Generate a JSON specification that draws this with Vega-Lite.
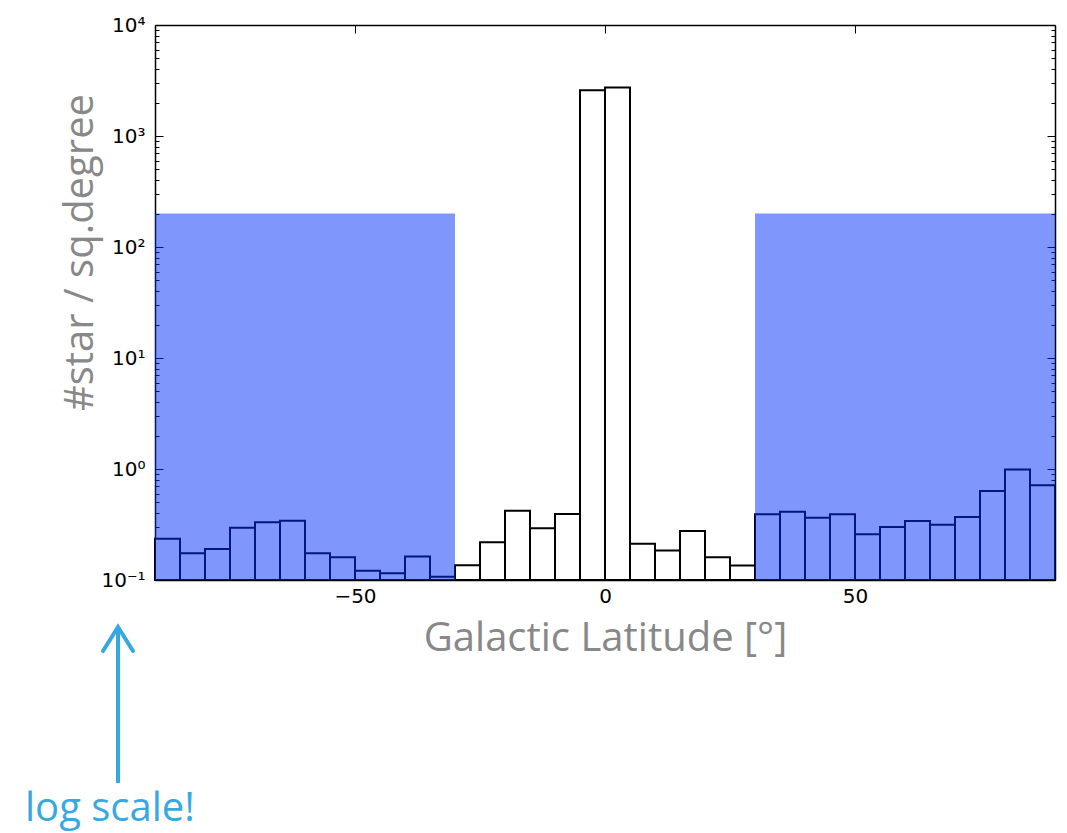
{
  "$schema": "https://vega.github.io/schema/vega-lite/v6.json",
  "width": 900,
  "height": 555,
  "autosize": "none",
  "padding": {"left": 155, "top": 25, "right": 12, "bottom": 253},
  "background": "white",
  "config": {
    "view": {"stroke": null},
    "axis": {
      "grid": false,
      "domainColor": "black",
      "domainWidth": 1.5,
      "tickColor": "black",
      "tickWidth": 1,
      "labelFont": "DejaVu Sans",
      "labelFontSize": 20,
      "labelColor": "black",
      "titleFont": "Open Sans",
      "titleFontSize": 40,
      "titleFontWeight": "normal",
      "titleColor": "#888888"
    }
  },
  "resolve": {"axis": {"x": "independent", "y": "independent"}},
  "layer": [
    {
      "data": {
        "values": [
          {"lat_lo": -90, "lat_hi": -85, "density": 0.235},
          {"lat_lo": -85, "lat_hi": -80, "density": 0.174},
          {"lat_lo": -80, "lat_hi": -75, "density": 0.19},
          {"lat_lo": -75, "lat_hi": -70, "density": 0.296},
          {"lat_lo": -70, "lat_hi": -65, "density": 0.331},
          {"lat_lo": -65, "lat_hi": -60, "density": 0.342},
          {"lat_lo": -60, "lat_hi": -55, "density": 0.174},
          {"lat_lo": -55, "lat_hi": -50, "density": 0.16},
          {"lat_lo": -50, "lat_hi": -45, "density": 0.121},
          {"lat_lo": -45, "lat_hi": -40, "density": 0.115},
          {"lat_lo": -40, "lat_hi": -35, "density": 0.163},
          {"lat_lo": -35, "lat_hi": -30, "density": 0.107},
          {"lat_lo": -30, "lat_hi": -25, "density": 0.136},
          {"lat_lo": -25, "lat_hi": -20, "density": 0.219},
          {"lat_lo": -20, "lat_hi": -15, "density": 0.42},
          {"lat_lo": -15, "lat_hi": -10, "density": 0.292},
          {"lat_lo": -10, "lat_hi": -5, "density": 0.394},
          {"lat_lo": -5, "lat_hi": 0, "density": 2580},
          {"lat_lo": 0, "lat_hi": 5, "density": 2740},
          {"lat_lo": 5, "lat_hi": 10, "density": 0.212},
          {"lat_lo": 10, "lat_hi": 15, "density": 0.184},
          {"lat_lo": 15, "lat_hi": 20, "density": 0.277},
          {"lat_lo": 20, "lat_hi": 25, "density": 0.16},
          {"lat_lo": 25, "lat_hi": 30, "density": 0.135},
          {"lat_lo": 30, "lat_hi": 35, "density": 0.391},
          {"lat_lo": 35, "lat_hi": 40, "density": 0.412},
          {"lat_lo": 40, "lat_hi": 45, "density": 0.364},
          {"lat_lo": 45, "lat_hi": 50, "density": 0.391},
          {"lat_lo": 50, "lat_hi": 55, "density": 0.258},
          {"lat_lo": 55, "lat_hi": 60, "density": 0.3},
          {"lat_lo": 60, "lat_hi": 65, "density": 0.34},
          {"lat_lo": 65, "lat_hi": 70, "density": 0.315},
          {"lat_lo": 70, "lat_hi": 75, "density": 0.37},
          {"lat_lo": 75, "lat_hi": 80, "density": 0.634},
          {"lat_lo": 80, "lat_hi": 85, "density": 0.99},
          {"lat_lo": 85, "lat_hi": 90, "density": 0.713}
        ]
      },
      "mark": {"type": "rect", "fill": "white", "stroke": "black", "strokeWidth": 2},
      "encoding": {
        "x": {
          "field": "lat_lo",
          "type": "quantitative",
          "scale": {"domain": [-90, 90], "nice": false, "zero": false},
          "axis": {
            "orient": "bottom",
            "values": [-50, 0, 50],
            "tickSize": -8,
            "labelPadding": 14,
            "labelFlush": false,
            "title": "Galactic Latitude [°]",
            "titleBaseline": "alphabetic",
            "titleY": 70
          }
        },
        "x2": {"field": "lat_hi"},
        "y": {
          "field": "density",
          "type": "quantitative",
          "scale": {"type": "log", "domain": [0.1, 10000]},
          "axis": {
            "orient": "left",
            "values": [0.1, 1, 10, 100, 1000, 10000],
            "tickSize": -8,
            "labelPadding": 18,
            "labelExpr": "datum.value >= 10000 ? '10⁴' : datum.value >= 1000 ? '10³' : datum.value >= 100 ? '10²' : datum.value >= 10 ? '10¹' : datum.value >= 1 ? '10⁰' : '10⁻¹'",
            "title": "#star / sq.degree",
            "titleAngle": 270,
            "titleBaseline": "alphabetic",
            "titleX": -63,
            "titleY": 227
          }
        },
        "y2": {"datum": 0.1}
      }
    },
    {
      "data": {
        "values": [
          {"lat_lo": -90, "lat_hi": -30, "top": 200},
          {"lat_lo": 30, "lat_hi": 90, "top": 200}
        ]
      },
      "mark": {"type": "rect", "fill": "#002df9", "opacity": 0.5, "strokeWidth": 0},
      "encoding": {
        "x": {
          "field": "lat_lo",
          "type": "quantitative",
          "scale": {"domain": [-90, 90], "nice": false, "zero": false},
          "axis": {"orient": "top", "values": [-50, 0, 50], "tickSize": -8, "labels": false, "title": null}
        },
        "x2": {"field": "lat_hi"},
        "y": {
          "field": "top",
          "type": "quantitative",
          "scale": {"type": "log", "domain": [0.1, 10000]},
          "axis": {"orient": "right", "values": [0.1, 1, 10, 100, 1000, 10000], "tickSize": -8, "labels": false, "title": null}
        },
        "y2": {"datum": 0.1}
      }
    },
    {
      "data": {"values": [{}]},
      "mark": {"type": "rule", "color": "#35a8e0", "strokeWidth": 4},
      "encoding": {
        "x": {"datum": -97.4, "type": "quantitative", "scale": {"domain": [-90, 90], "nice": false, "zero": false}, "axis": null},
        "y": {
          "datum": 0.0354,
          "type": "quantitative",
          "scale": {"type": "log", "domain": [0.1, 10000]},
          "axis": {
            "orient": "left",
            "values": [0.2, 0.3, 0.4, 0.5, 0.6, 0.7, 0.8, 0.9, 2, 3, 4, 5, 6, 7, 8, 9, 20, 30, 40, 50, 60, 70, 80, 90, 200, 300, 400, 500, 600, 700, 800, 900, 2000, 3000, 4000, 5000, 6000, 7000, 8000, 9000],
            "tickSize": -4,
            "labels": false,
            "domain": false,
            "title": null
          }
        },
        "y2": {"datum": 0.00148}
      }
    },
    {
      "data": {"values": [{}]},
      "mark": {"type": "point", "shape": "M-1,1.6L0,0L1,1.6", "filled": false, "size": 900, "strokeWidth": 4, "color": "#35a8e0", "opacity": 1, "strokeCap": "round"},
      "encoding": {
        "x": {"datum": -97.4, "type": "quantitative", "scale": {"domain": [-90, 90], "nice": false, "zero": false}, "axis": null},
        "y": {
          "datum": 0.0377,
          "type": "quantitative",
          "scale": {"type": "log", "domain": [0.1, 10000]},
          "axis": {
            "orient": "right",
            "values": [0.2, 0.3, 0.4, 0.5, 0.6, 0.7, 0.8, 0.9, 2, 3, 4, 5, 6, 7, 8, 9, 20, 30, 40, 50, 60, 70, 80, 90, 200, 300, 400, 500, 600, 700, 800, 900, 2000, 3000, 4000, 5000, 6000, 7000, 8000, 9000],
            "tickSize": -4,
            "labels": false,
            "domain": false,
            "title": null
          }
        }
      }
    },
    {
      "data": {"values": [{}]},
      "mark": {"type": "text", "text": "log scale!", "align": "left", "baseline": "alphabetic", "font": "Open Sans", "fontSize": 40, "color": "#38a9e0"},
      "encoding": {
        "x": {"datum": -116, "type": "quantitative", "scale": {"domain": [-90, 90], "nice": false, "zero": false}, "axis": null},
        "y": {"datum": 0.00067, "type": "quantitative", "scale": {"type": "log", "domain": [0.1, 10000]}, "axis": null}
      }
    }
  ]
}
